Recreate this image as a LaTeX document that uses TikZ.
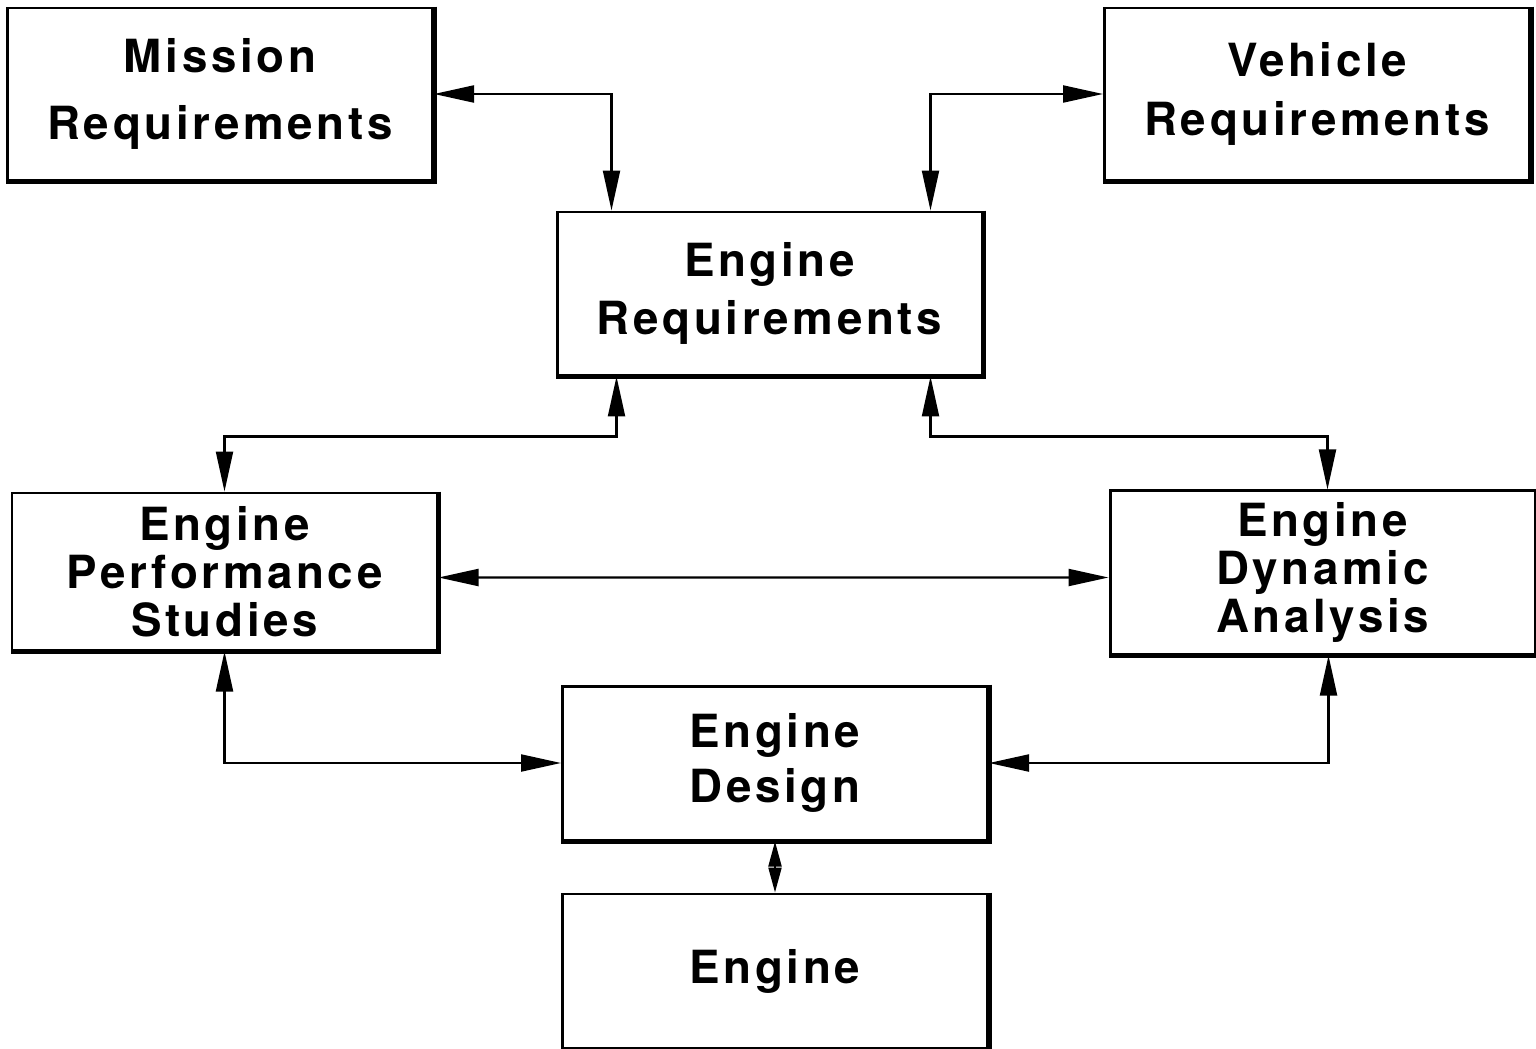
\documentclass[tikz,border=0pt]{standalone}
\usepackage{fontspec}
\newfontfamily\boxfont{TeX Gyre Heros}[LetterSpace=8]
\usetikzlibrary{arrows.meta, positioning}

\begin{document}
\begin{tikzpicture}[
        box/.style={rectangle, draw, line width=0.85pt, minimum width=4.25cm, minimum height=1.6cm, align=center,
                    font=\boxfont\bfseries\fontsize{13}{16.5}\selectfont},
        tight/.style={font=\boxfont\bfseries\fontsize{13}{13.6}\selectfont},
        edge/.style={line width=1.5pt},
        arr/.style={{Triangle[length=4mm,width=1.7mm]}-{Triangle[length=4mm,width=1.7mm]}, line width=0.6pt},
        sarr/.style={{Triangle[length=2.5mm,width=1.3mm]}-{Triangle[length=2.5mm,width=1.3mm]}, line width=0.6pt}
      ]
        \useasboundingbox (0,0) rectangle (15.36,-10.48);
        \node[box, minimum height=1.72cm] (mission) at (2.20,-0.94) {Mission\\[2.5pt]Requirements};
        \node[box, minimum height=1.72cm] (vehicle) at (13.17,-0.94) {Vehicle\\[0.5pt]Requirements};
        \node[box, minimum height=1.63cm] (engreq) at (7.695,-2.935) {Engine\\Requirements};
        \node[box, tight, minimum height=1.57cm] (perf) at (2.245,-5.715) {Engine\\Performance\\Studies};
        \node[box, tight, minimum height=1.59cm] (dyn) at (13.225,-5.725) {Engine\\Dynamic\\Analysis};
        \node[box, minimum height=1.54cm] (design) at (7.75,-7.63) {Engine\\[-1pt]Design};
        \node[box, minimum height=1.54cm, below=0.51cm of design] (engine) {Engine};
        \foreach \n in {mission, vehicle, engreq, perf, dyn, design, engine}
          \draw[edge] (\n.north east) |- (\n.south west);
        \draw[arr] (mission.east) -| ([xshift=5.6mm]engreq.north west);
        \draw[arr] (vehicle.west) -| ([xshift=-5.3mm]engreq.north east);
        \draw[arr] ([xshift=6.1mm]engreq.south west) -- ++(0,-0.6) -| (perf.north);
        \draw[arr] ([xshift=-5.3mm]engreq.south east) -- ++(0,-0.6) -| ([xshift=0.5mm]dyn.north);
        \draw[arr] ([yshift=-0.6mm]perf.east) -- ([yshift=-0.5mm]dyn.west);
        \draw[arr] (perf.south) |- (design.west);
        \draw[arr] ([xshift=0.6mm]dyn.south) |- (design.east);
        \draw[sarr] (design.south) -- (engine.north);
      \end{tikzpicture}
\end{document}
